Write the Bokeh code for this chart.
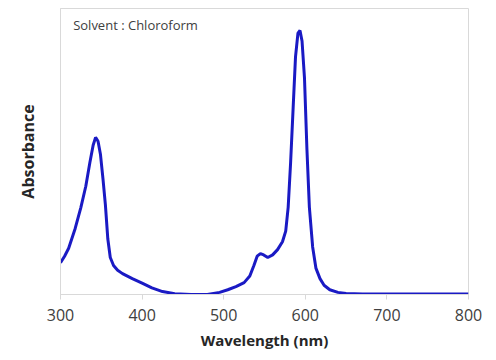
from bokeh.plotting import figure
from bokeh.models import Range1d, FixedTicker, Label
from bokeh.embed import file_html
from bokeh.resources import INLINE

# Wavelength (nm) and absorbance (normalised)
wavelength = [300, 305, 310, 318, 325, 331, 336, 340, 343, 346, 349, 352, 355, 358,
              361, 365, 370, 376, 388, 400, 412, 425, 440, 460, 480, 495, 505, 515,
              525, 532, 537, 541, 545, 549, 554, 560, 566, 572, 576, 579, 582, 585,
              588, 591, 593.5, 596, 599, 602, 605, 609, 613, 618, 623, 630, 640, 650,
              670, 700, 750, 800]
absorbance = [0.12, 0.145, 0.175, 0.25, 0.33, 0.41, 0.50, 0.565, 0.595, 0.58, 0.53, 0.44,
              0.34, 0.21, 0.14, 0.11, 0.092, 0.079, 0.06, 0.043, 0.025, 0.011, 0.003, 0.0,
              0.0, 0.008, 0.018, 0.03, 0.045, 0.07, 0.11, 0.145, 0.155, 0.15, 0.14, 0.15,
              0.17, 0.2, 0.24, 0.33, 0.5, 0.7, 0.9, 0.99, 1.0, 0.96, 0.82, 0.55, 0.33,
              0.18, 0.10, 0.06, 0.035, 0.018, 0.008, 0.004, 0.002, 0.002, 0.002, 0.002]
x_ticks = [300, 400, 500, 600, 700, 800]
annotation = "Solvent  : Chloroform"

p = figure(width=488, height=352, output_backend="svg", toolbar_location=None,
           x_range=Range1d(300, 800), y_range=Range1d(0, 1.083),
           min_border_left=60, min_border_right=20, min_border_top=8, min_border_bottom=56)
p.background_fill_color = "white"
p.border_fill_color = "white"
p.outline_line_color = "#d9d9d9"
p.grid.visible = False

p.line(wavelength, absorbance, line_color="#1a1ac4", line_width=3)

ax = p.xaxis[0]
ax.ticker = FixedTicker(ticks=x_ticks)
ax.minor_tick_line_color = None
ax.axis_line_color = "#d9d9d9"
ax.major_tick_line_color = "#d9d9d9"
ax.major_tick_in = 0
ax.major_tick_out = 5
ax.major_label_text_font = "Open Sans"
ax.major_label_text_font_size = "16px"
ax.major_label_text_color = "#404040"
ax.major_label_standoff = 9
ax.axis_label = "Wavelength (nm)"
ax.axis_label_text_font = "Open Sans"
ax.axis_label_text_font_style = "bold"
ax.axis_label_text_font_size = "15px"
ax.axis_label_text_color = "#262626"
ax.axis_label_standoff = 6

ay = p.yaxis[0]
ay.ticker = FixedTicker(ticks=[])
ay.minor_tick_line_color = None
ay.major_tick_line_color = None
ay.axis_line_color = "#d9d9d9"
ay.axis_label = "Absorbance"
ay.axis_label_text_font = "Open Sans"
ay.axis_label_text_font_style = "bold"
ay.axis_label_text_font_size = "16px"
ay.axis_label_text_color = "#262626"
ay.axis_label_standoff = 22

p.add_layout(Label(x=315.5, y=1.055, text=annotation, text_font="Open Sans",
                   text_font_size="13px", text_color="#404040", text_baseline="top"))

open("out.html", "w").write(file_html(p, INLINE))
